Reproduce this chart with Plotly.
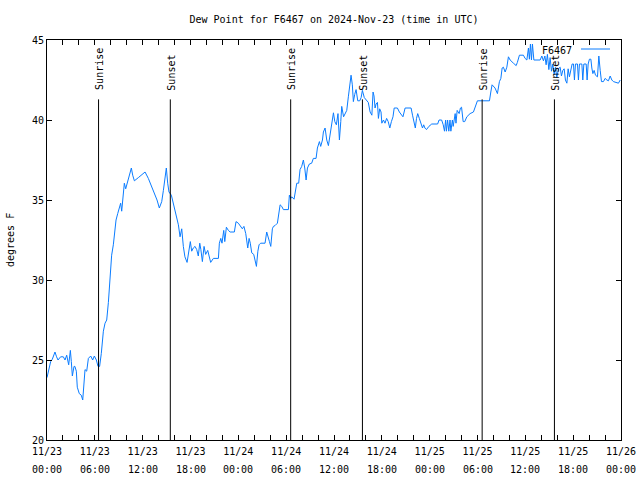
import pandas as pd
import plotly.graph_objects as go

# ---- data ----
start_time = "2024-11-23 00:00"
hours = [0.0, 0.2, 0.46, 0.67, 1.0, 1.2, 1.38, 1.71, 2.05, 2.26, 2.47, 2.72, 2.93, 3.05, 3.18, 3.39, 3.5, 3.68, 3.8, 4.05,
         4.3, 4.48, 4.64, 4.77, 4.98, 5.19, 5.48, 5.73, 5.94, 6.19, 6.4, 6.6, 6.81, 7.07, 7.28, 7.49, 7.7, 7.86, 8.03, 8.11,
         8.32, 8.53, 8.66, 8.87, 9.07, 9.24, 9.37, 9.57, 9.7, 9.87, 10.12, 10.33, 10.58, 10.75, 10.96, 11.46, 11.88, 12.3, 12.71, 13.14,
         13.55, 13.8, 14.09, 14.39, 14.6, 14.8, 14.97, 15.14, 15.3, 15.6, 15.97, 16.27, 16.48, 16.69, 16.9, 17.1, 17.3, 17.57, 17.82, 17.98,
         18.15, 18.35, 18.57, 18.78, 18.98, 19.16, 19.3, 19.49, 19.7, 19.9, 20.16, 20.37, 20.53, 20.87, 21.5, 21.62, 21.8, 21.95, 22.17, 22.3,
         22.5, 22.75, 22.97, 23.5, 23.71, 24.0, 24.25, 24.5, 24.7, 24.93, 25.18, 25.35, 25.5, 25.68, 25.93, 26.1, 26.27, 26.45, 26.6, 26.8,
         27.35, 27.56, 27.77, 27.9, 28.07, 28.2, 28.27, 28.4, 28.6, 28.9, 29.03, 29.24, 29.45, 29.65, 30.28, 30.4, 30.57, 30.7, 30.99, 31.2,
         31.33, 31.57, 31.74, 31.95, 32.16, 32.33, 32.5, 32.67, 32.91, 33.2, 33.41, 33.75, 33.92, 34.17, 34.33, 34.55, 34.67, 34.88, 35.09, 35.3,
         35.5, 35.72, 35.93, 36.1, 36.3, 36.5, 36.68, 36.85, 36.97, 37.2, 37.4, 37.6, 37.8, 38.02, 38.14, 38.3, 38.43, 38.6, 38.77, 38.98,
         39.23, 39.4, 39.56, 39.8, 40.06, 40.3, 40.53, 40.75, 40.9, 41.02, 41.15, 41.28, 41.45, 41.57, 41.73, 41.9, 42.0, 42.2, 42.4, 42.6,
         42.8, 43.0, 43.2, 43.4, 43.55, 43.95, 44.2, 44.45, 44.65, 44.92, 45.67, 45.85, 46.05, 46.2, 46.35, 46.5, 46.7, 46.9, 47.1, 47.25,
         47.4, 47.6, 47.9, 48.26, 49.0, 49.18, 49.5, 49.7, 49.86, 50.0, 50.1, 50.25, 50.4, 50.55, 50.66, 50.85, 50.95, 51.2, 51.3, 51.45,
         51.7, 51.86, 52.0, 52.2, 52.4, 52.66, 53.07, 53.49, 53.7, 53.99, 54.62, 55.5, 55.67, 55.83, 56.2, 56.5, 56.75, 56.93, 57.09, 57.25,
         57.47, 57.68, 57.88, 58.09, 58.51, 58.85, 59.0, 59.26, 59.76, 59.97, 60.19, 60.39, 60.51, 60.64, 60.77, 60.89, 61.07, 61.86, 62.07, 62.27,
         62.45, 62.61, 62.77, 62.95, 63.11, 63.28, 63.45, 63.61, 63.78, 63.95, 64.15, 64.37, 64.53, 64.7, 64.87, 65.03, 65.21, 65.37, 65.53, 65.71,
         65.87, 66.04, 66.16, 66.29, 66.54, 66.66, 66.79, 67.09, 67.21, 67.34, 67.63, 67.75, 67.88, 68.04, 68.22, 68.34, 68.47, 68.63, 68.8, 69.05,
         69.22, 69.39, 69.55, 69.8, 70.01, 70.23, 70.43, 70.64, 70.85, 71.05, 71.39, 71.68, 71.9]
dew_point = [23.9, 24.4, 24.9, 25.05, 25.5, 25.2, 25.0, 25.2, 25.2, 25.0, 25.3, 24.7, 25.6, 24.9, 24.0, 24.6, 24.6, 24.3, 23.3, 22.9,
             22.8, 22.5, 24.0, 24.4, 24.3, 25.1, 25.25, 25.0, 25.25, 25.0, 24.6, 24.6, 25.4, 26.8, 27.3, 27.5, 28.6, 29.7, 30.8, 31.55,
             32.2, 33.1, 33.75, 34.15, 34.6, 34.8, 34.3, 35.5, 36.05, 35.7, 36.15, 36.55, 37.0, 36.55, 36.2, 36.4, 36.55, 36.75, 36.35, 35.8,
             35.4, 35.0, 34.5, 34.9, 35.6, 36.35, 37.0, 36.05, 35.5, 35.3, 34.55, 33.95, 33.45, 32.7, 33.2, 32.1, 31.45, 31.1, 31.9, 32.4,
             31.8, 32.0, 32.1, 31.9, 31.5, 32.3, 31.9, 31.15, 32.1, 31.6, 31.85, 31.35, 31.1, 31.35, 31.35, 32.3, 32.6, 32.3, 33.1, 32.4,
             33.3, 33.1, 33.0, 33.0, 33.65, 33.55, 33.4, 33.2, 33.35, 32.9, 32.0, 32.6, 32.3, 31.7, 31.6, 31.25, 30.85, 31.8, 32.2, 32.3,
             32.3, 33.0, 32.7, 32.4, 32.1, 32.8, 33.2, 33.35, 33.4, 33.55, 34.15, 34.7, 34.6, 34.4, 34.4, 35.3, 35.1, 35.2, 35.05, 35.6,
             36.05, 36.05, 36.9, 37.1, 37.5, 37.0, 36.25, 37.0, 37.25, 37.3, 37.6, 37.6, 38.25, 38.65, 38.35, 38.75, 39.25, 39.5, 38.75, 38.4,
             39.0, 39.7, 40.45, 39.9, 39.7, 40.4, 38.75, 39.9, 40.85, 40.2, 40.4, 40.6, 41.45, 42.4, 42.8, 42.2, 41.15, 41.6, 41.9, 41.2,
             41.2, 41.4, 41.85, 41.4, 41.25, 41.1, 40.5, 40.3, 41.75, 41.5, 40.75, 41.0, 41.1, 40.1, 40.7, 40.5, 39.8, 40.0, 39.8, 40.1,
             39.9, 39.5, 39.9, 40.2, 40.75, 40.75, 40.5, 40.3, 40.2, 40.75, 40.75, 40.3, 39.7, 39.5, 40.1, 40.4, 40.1, 39.8, 39.5, 39.7,
             39.5, 39.4, 39.6, 39.75, 39.75, 40.0, 40.0, 39.7, 39.3, 40.0, 39.3, 40.0, 39.3, 40.0, 39.3, 40.0, 39.6, 40.4, 39.8, 40.6,
             40.4, 40.75, 40.8, 39.9, 39.9, 40.2, 40.4, 40.5, 40.85, 41.2, 41.2, 41.2, 41.75, 42.2, 42.0, 41.65, 42.4, 42.6, 43.25, 43.3,
             43.0, 43.3, 43.95, 43.75, 43.55, 43.4, 43.6, 44.05, 44.05, 43.85, 43.75, 44.5, 43.8, 44.75, 43.75, 44.75, 43.75, 43.75, 44.0, 43.7,
             44.0, 43.45, 44.1, 43.15, 43.9, 43.05, 43.5, 42.85, 43.3, 42.65, 43.2, 43.3, 42.75, 43.1, 43.2, 42.5, 42.3, 43.2, 42.7, 43.25,
             43.5, 43.5, 42.5, 43.5, 43.5, 42.5, 43.5, 43.5, 42.5, 43.5, 43.5, 42.5, 43.5, 43.8, 43.8, 43.25, 42.9, 43.1, 42.8, 42.7,
             44.0, 43.1, 42.4, 42.4, 42.6, 42.5, 42.45, 42.75, 42.5, 42.4, 42.35, 42.3, 42.5]

sun_events = ["2024-11-23 06:28", "2024-11-23 15:28", "2024-11-24 06:34",
              "2024-11-24 15:34", "2024-11-25 06:35", "2024-11-25 15:39"]
sun_labels = ["Sunrise", "Sunset", "Sunrise", "Sunset", "Sunrise", "Sunset"]

x_tick_times = pd.date_range("2024-11-23 00:00", "2024-11-26 00:00", freq="2h")
x_date_labels = ["11/23", "11/23", "11/23", "11/23", "11/24", "11/24", "11/24", "11/24",
                 "11/25", "11/25", "11/25", "11/25", "11/26"]
x_time_labels = ["00:00", "06:00", "12:00", "18:00", "00:00", "06:00", "12:00", "18:00",
                 "00:00", "06:00", "12:00", "18:00", "00:00"]
y_ticks = [20, 25, 30, 35, 40, 45]

series_name = "F6467"
title_text = "Dew Point for F6467 on 2024-Nov-23 (time in UTC)"
y_title = "degrees F"

# ---- build ----
times = pd.Timestamp(start_time) + pd.to_timedelta(hours, unit="h")
x_tick_text = []
for i in range(len(x_tick_times)):
    x_tick_text.append(x_date_labels[i // 3] if i % 3 == 0 else "")

FONT = "DejaVu Sans Mono"
LINE_COLOR = "#0a7cff"

fig = go.Figure()
fig.add_trace(go.Scatter(x=times, y=dew_point, mode="lines", name=series_name,
                         line=dict(color=LINE_COLOR, width=1), showlegend=False))

LINE_TOP = 41.29
for t, lab in zip(sun_events, sun_labels):
    fig.add_shape(type="line", xref="x", yref="y", x0=t, x1=t, y0=20, y1=LINE_TOP,
                  line=dict(color="black", width=1))
    fig.add_annotation(x=t, y=LINE_TOP, xref="x", yref="y", text=lab, textangle=-90,
                       showarrow=False, xanchor="center", yanchor="bottom", yshift=7, xshift=1,
                       font=dict(family=FONT, size=10, color="black"))

# second row of x tick labels (time of day)
for i, lab in enumerate(x_time_labels):
    fig.add_annotation(x=x_tick_times[i * 3], y=0, xref="x", yref="paper", text=lab,
                       showarrow=False, xanchor="center", yanchor="middle", yshift=-29,
                       font=dict(family=FONT, size=10, color="black"))

# legend (key text then sample line, as in the reference)
fig.add_annotation(xref="paper", yref="paper", x=(574 - 47) / 574, y=1 - 10 / 400,
                   text=series_name, showarrow=False, xanchor="right", yanchor="middle",
                   font=dict(family=FONT, size=10, color="black"))
fig.add_shape(type="line", xref="paper", yref="paper", x0=(581 - 47) / 574, x1=(610 - 47) / 574,
              y0=1 - 9 / 400, y1=1 - 9 / 400, line=dict(color=LINE_COLOR, width=1))

fig.add_annotation(xref="paper", yref="paper", x=0, y=0.5, xshift=-37, text=y_title,
                   textangle=-90, showarrow=False, xanchor="center", yanchor="middle",
                   font=dict(family=FONT, size=10, color="black"))

fig.update_layout(
    width=640, height=480,
    margin=dict(l=47, r=19, t=40, b=40, autoexpand=False),
    paper_bgcolor="white", plot_bgcolor="white",
    font=dict(family=FONT, size=10, color="black"),
    title=dict(text=title_text, x=334 / 640, xanchor="center", y=1 - 19 / 480, yanchor="middle",
               yref="container", font=dict(family=FONT, size=10, color="black")),
    showlegend=False,
)
fig.update_xaxes(range=["2024-11-23 00:00", "2024-11-26 00:00"], tickmode="array",
                 tickvals=list(x_tick_times), ticktext=x_tick_text, ticks="inside", ticklen=5,
                 tickcolor="black", showline=True, linecolor="black", linewidth=1,
                 mirror="allticks", showgrid=False, zeroline=False, automargin=False,
                 ticklabelstandoff=2,
                 tickfont=dict(family=FONT, size=10, color="black"))
fig.update_yaxes(range=[20, 45], tickmode="array", tickvals=y_ticks,
                 ticktext=[str(v) for v in y_ticks], ticks="inside", ticklen=5,
                 tickcolor="black", showline=True, linecolor="black", linewidth=1,
                 mirror="allticks", showgrid=False, zeroline=False, automargin=False,
                 tickfont=dict(family=FONT, size=10, color="black"))

fig.write_html("out.html")
